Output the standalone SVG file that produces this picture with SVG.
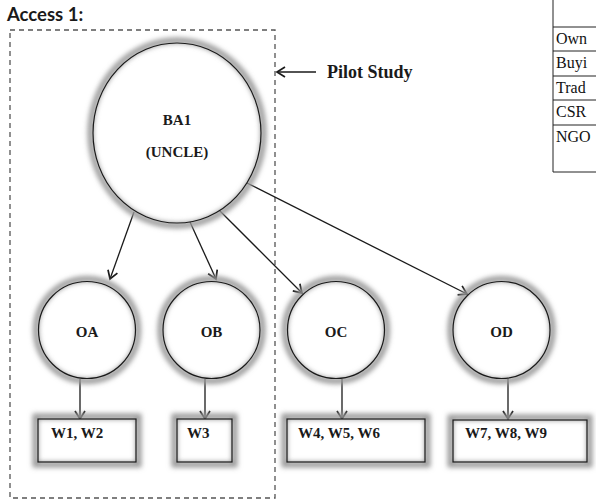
<svg xmlns="http://www.w3.org/2000/svg" width="596" height="504" viewBox="0 0 596 504">
  <style>
    .lbl { font-family: "Liberation Serif", "Times New Roman", serif; font-weight: bold; font-size: 15px; fill: #1a1a1a; }
    .lbl-big { font-size: 18px; }
    .node-line { fill: none; stroke: #1a1a1a; stroke-width: 1.2; }
    .halo { fill: none; stroke: #9a9a9a; stroke-width: 6; filter: url(#soft); }
    .face { fill: #ffffff; }
    .edge { fill: none; stroke: #1a1a1a; stroke-width: 1.3; marker-end: url(#vhead); }
    .tbl { fill: none; stroke: #222; stroke-width: 1; }
    .tbl-txt { font-family: "Liberation Serif", "Times New Roman", serif; font-size: 16px; fill: #111; }
  </style>
  <defs>
    <filter id="soft" x="-20%" y="-20%" width="140%" height="140%">
      <feGaussianBlur stdDeviation="2.4"/>
    </filter>
    <marker id="vhead" markerUnits="userSpaceOnUse" markerWidth="14" markerHeight="14" refX="9" refY="6" orient="auto">
      <path d="M1,1 L9,6 L1,11" fill="none" stroke="#1a1a1a" stroke-width="1.7"/>
    </marker>
  </defs>

  <rect width="596" height="504" fill="#ffffff"/>

  <!-- heading -->
  <text x="7" y="21" font-family="Lato, 'Open Sans', sans-serif" font-weight="bold" font-size="18.5" fill="#1a1a1a">Access 1:</text>

  <!-- pilot study frame -->
  <rect x="10" y="30" width="265" height="468" fill="none" stroke="#555" stroke-width="1.3" stroke-dasharray="5,4"/>
  <g id="pilot-note">
    <line x1="316" y1="72" x2="277" y2="72" class="edge"/>
    <text x="327" y="78" class="lbl lbl-big">Pilot Study</text>
  </g>

  <!-- partial table at the right edge -->
  <g id="side-table">
    <line x1="553" y1="0" x2="553" y2="172" class="tbl"/>
    <line x1="553" y1="27" x2="596" y2="27" class="tbl"/>
    <line x1="553" y1="51" x2="596" y2="51" class="tbl"/>
    <line x1="553" y1="76" x2="596" y2="76" class="tbl"/>
    <line x1="553" y1="100" x2="596" y2="100" class="tbl"/>
    <line x1="553" y1="125" x2="596" y2="125" class="tbl"/>
    <line x1="553" y1="172" x2="596" y2="172" class="tbl"/>
    <text x="556" y="44" class="tbl-txt">Own</text>
    <text x="556" y="68" class="tbl-txt">Buyi</text>
    <text x="556" y="93" class="tbl-txt">Trad</text>
    <text x="556" y="117" class="tbl-txt">CSR</text>
    <text x="556" y="142" class="tbl-txt">NGO</text>
  </g>

  <!-- connectors -->
  <g id="connectors">
    <line x1="134" y1="212" x2="110" y2="279" class="edge"/>
    <line x1="190" y1="222" x2="216" y2="279" class="edge"/>
    <line x1="219" y1="210" x2="302" y2="293" class="edge"/>
    <line x1="247" y1="183" x2="467" y2="294" class="edge"/>
    <line x1="80" y1="379" x2="80" y2="419" class="edge"/>
    <line x1="205" y1="379" x2="205" y2="419" class="edge"/>
    <line x1="342" y1="379" x2="342" y2="419" class="edge"/>
    <line x1="508" y1="379" x2="508" y2="419" class="edge"/>
  </g>

  <!-- root node -->
  <g id="BA1">
    <ellipse cx="177" cy="133" rx="84" ry="90" class="face"/>
    <ellipse cx="177" cy="133" rx="86.5" ry="92.5" class="halo"/>
    <ellipse cx="177" cy="133" rx="84" ry="90" class="node-line"/>
    <text x="177" y="125" text-anchor="middle" class="lbl">BA1</text>
    <text x="177" y="157" text-anchor="middle" class="lbl">(UNCLE)</text>
  </g>

  <!-- second-level nodes -->
  <g id="OA">
    <circle cx="87" cy="330" r="48.5" class="face"/>
    <circle cx="87" cy="330" r="51" class="halo"/>
    <circle cx="87" cy="330" r="48.5" class="node-line"/>
    <text x="87" y="337" text-anchor="middle" class="lbl">OA</text>
  </g>
  <g id="OB">
    <circle cx="211.5" cy="330" r="48.5" class="face"/>
    <circle cx="211.5" cy="330" r="51" class="halo"/>
    <circle cx="211.5" cy="330" r="48.5" class="node-line"/>
    <text x="211.5" y="337" text-anchor="middle" class="lbl">OB</text>
  </g>
  <g id="OC">
    <circle cx="336" cy="330" r="48.5" class="face"/>
    <circle cx="336" cy="330" r="51" class="halo"/>
    <circle cx="336" cy="330" r="48.5" class="node-line"/>
    <text x="336" y="337" text-anchor="middle" class="lbl">OC</text>
  </g>
  <g id="OD">
    <circle cx="501.5" cy="330" r="48.5" class="face"/>
    <circle cx="501.5" cy="330" r="51" class="halo"/>
    <circle cx="501.5" cy="330" r="48.5" class="node-line"/>
    <text x="501.5" y="337" text-anchor="middle" class="lbl">OD</text>
  </g>

  <!-- leaf boxes -->
  <g id="W1-W2">
    <rect x="38" y="419" width="98" height="43" class="face"/>
    <rect x="35.5" y="416.5" width="103" height="48" class="halo"/>
    <rect x="38" y="419" width="98" height="43" class="node-line"/>
    <text x="51" y="438" class="lbl">W1, W2</text>
  </g>
  <g id="W3">
    <rect x="177" y="419" width="55" height="43" class="face"/>
    <rect x="174.5" y="416.5" width="60" height="48" class="halo"/>
    <rect x="177" y="419" width="55" height="43" class="node-line"/>
    <text x="187" y="438" class="lbl">W3</text>
  </g>
  <g id="W4-W6">
    <rect x="287" y="419" width="138" height="43" class="face"/>
    <rect x="284.5" y="416.5" width="143" height="48" class="halo"/>
    <rect x="287" y="419" width="138" height="43" class="node-line"/>
    <text x="298" y="438" class="lbl">W4, W5, W6</text>
  </g>
  <g id="W7-W9">
    <rect x="453" y="420" width="134" height="42" class="face"/>
    <rect x="450.5" y="417.5" width="139" height="47" class="halo"/>
    <rect x="453" y="420" width="134" height="42" class="node-line"/>
    <text x="465" y="438" class="lbl">W7, W8, W9</text>
  </g>
</svg>
